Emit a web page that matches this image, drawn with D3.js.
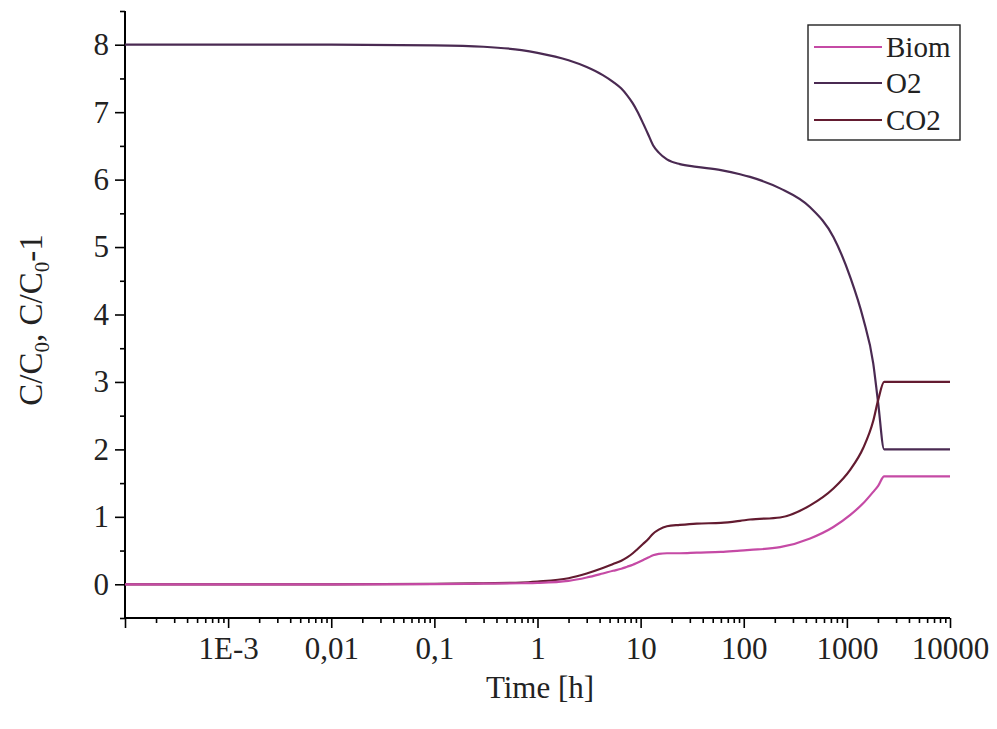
<!DOCTYPE html>
<html><head><meta charset="utf-8">
<script src="https://cdn.jsdelivr.net/npm/d3@7"></script>
<style>body{margin:0;background:#fff}svg{display:block}</style>
</head><body>
<svg id="c" width="997" height="729"></svg>
<script>
const time = [1e-4, 0.01, 0.1, 0.3, 0.7, 1, 2, 3, 4.3, 5.4, 6.5, 7.4, 8.4, 9.3, 10.6, 12, 13.2, 15, 18, 24, 35, 60, 92, 115, 225, 440, 740, 1080, 1440, 1800, 2010, 2300, 10000];
const o2   = [8, 8, 7.99, 7.97, 7.92, 7.88, 7.77, 7.67, 7.55, 7.45, 7.35, 7.25, 7.13, 7.01, 6.83, 6.65, 6.51, 6.4, 6.3, 6.23, 6.19, 6.14, 6.08, 6.04, 5.87, 5.59, 5.15, 4.55, 3.94, 3.28, 2.69, 2.0, 2.0];
const co2  = [0, 0, 0.005, 0.015, 0.025, 0.04, 0.09, 0.16, 0.24, 0.3, 0.35, 0.4, 0.46, 0.52, 0.6, 0.68, 0.75, 0.81, 0.86, 0.88, 0.9, 0.91, 0.94, 0.96, 0.99, 1.17, 1.42, 1.7, 2.02, 2.42, 2.73, 3.0, 3.0];
const biom = [0, 0, 0.003, 0.01, 0.015, 0.02, 0.05, 0.1, 0.16, 0.2, 0.23, 0.26, 0.29, 0.32, 0.36, 0.4, 0.43, 0.45, 0.46, 0.46, 0.47, 0.48, 0.5, 0.51, 0.55, 0.68, 0.85, 1.03, 1.2, 1.37, 1.46, 1.6, 1.6];
const seriesNames = ["Biom", "O2", "CO2"];
const seriesColors = ["#c54aa5", "#4a2a52", "#631b30"];
const xTickValues = [1e-3, 1e-2, 1e-1, 1, 10, 100, 1000, 10000];
const xTickLabels = ["1E-3", "0,01", "0,1", "1", "10", "100", "1000", "10000"];
const yTickValues = [0, 1, 2, 3, 4, 5, 6, 7, 8];

const svg = d3.select("#c");
const font = "'Liberation Serif','Times New Roman',serif";
const x = d3.scaleLog().domain([1e-4, 1e4]).range([125, 950]);
const y = d3.scaleLinear().domain([-0.5, 8.5]).range([618, 11]);

// axes
const minorX = [];
for (let e = -4; e < 4; e++) for (let k = 2; k <= 9; k++) minorX.push(k * Math.pow(10, e));
const xAxisG = svg.append("g").attr("transform", "translate(0,618)");
xAxisG.call(d3.axisBottom(x).tickValues(minorX).tickSize(5).tickFormat(""));
xAxisG.append("g").call(d3.axisBottom(x).tickValues([1e-4].concat(xTickValues)).tickSize(10)
  .tickFormat(d => { const i = xTickValues.indexOf(d); return i < 0 ? "" : xTickLabels[i]; }));
xAxisG.selectAll(".domain").attr("d", `M${x.range()[0]},0H${x.range()[1]}`);

const yAxisG = svg.append("g").attr("transform", "translate(125,0)");
yAxisG.call(d3.axisLeft(y).tickValues(d3.range(-0.5, 8.51, 0.5).filter(v => !Number.isInteger(v))).tickSize(5).tickFormat(""));
yAxisG.append("g").call(d3.axisLeft(y).tickValues(yTickValues).tickSize(10).tickFormat(d3.format("d")));
yAxisG.selectAll(".domain").attr("d", `M0,${y.range()[0]}V${y.range()[1]}`);

svg.selectAll(".domain").attr("stroke", "#000").attr("stroke-width", 2);
svg.selectAll(".tick line").attr("stroke", "#000").attr("stroke-width", 1.6);
svg.selectAll(".tick text").attr("font-family", font).attr("font-size", 31).attr("fill", "#222");
xAxisG.selectAll(".tick text").attr("dy", "0.9em");
yAxisG.selectAll(".tick text").attr("x", -16);

// lines
const seriesData = [biom, o2, co2];
const line = d3.line().x(d => x(d[0])).y(d => y(d[1])).curve(d3.curveMonotoneX);
[1, 2, 0].forEach(i => {
  svg.append("path").datum(time.map((t, j) => [t, seriesData[i][j]]))
    .attr("fill", "none").attr("stroke", seriesColors[i]).attr("stroke-width", 2.2)
    .attr("d", line);
});

// axis titles
svg.append("text").attr("x", 540).attr("y", 698).attr("text-anchor", "middle")
  .attr("font-family", font).attr("font-size", 31).attr("fill", "#222").text("Time [h]");
const yt = svg.append("text").attr("transform", "translate(42,320) rotate(-90)").attr("text-anchor", "middle")
  .attr("font-family", font).attr("font-size", 33).attr("fill", "#222");
yt.append("tspan").text("C/C");
yt.append("tspan").attr("font-size", 21).attr("dy", 7).text("0");
yt.append("tspan").attr("dy", -7).text(", C/C");
yt.append("tspan").attr("font-size", 21).attr("dy", 7).text("0");
yt.append("tspan").attr("dy", -7).text("-1");

// legend
const lg = svg.append("g");
lg.append("rect").attr("x", 808).attr("y", 25).attr("width", 152).attr("height", 115)
  .attr("fill", "#fff").attr("stroke", "#222").attr("stroke-width", 1.4);
const rowY = [47, 83, 120];
seriesNames.forEach((n, i) => {
  lg.append("line").attr("x1", 814).attr("x2", 882).attr("y1", rowY[i]).attr("y2", rowY[i])
    .attr("stroke", seriesColors[i]).attr("stroke-width", 2.2);
  lg.append("text").attr("x", 886).attr("y", rowY[i]).attr("dy", "0.35em")
    .attr("font-family", font).attr("font-size", 29).attr("fill", "#222").text(n);
});
</script>
</body></html>
